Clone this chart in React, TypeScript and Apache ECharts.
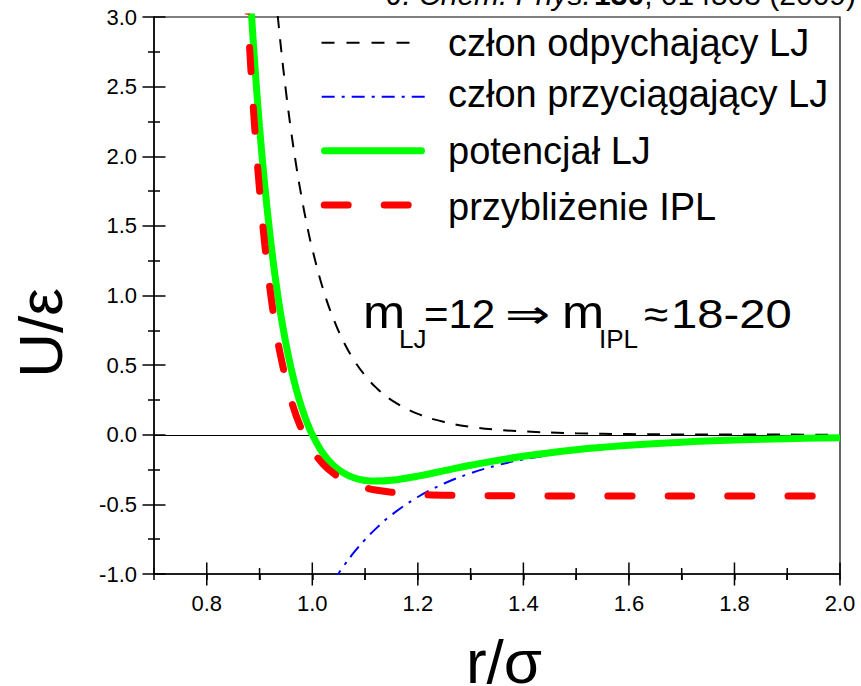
import React, { useEffect, useRef } from "react";
import * as echarts from "echarts";

const FONT = "'Liberation Sans', Arial, Helvetica, sans-serif";
const SYMBOL_FONT = "'Liberation Sans', 'DejaVu Sans', sans-serif";

// Axis tick positions
const xMajorTicks = [0.8, 1.0, 1.2, 1.4, 1.6, 1.8, 2.0];
const xMinorTicks = [0.7, 0.9, 1.1, 1.3, 1.5, 1.7, 1.9];
const yMajorTicks = [-1.0, -0.5, 0.0, 0.5, 1.0, 1.5, 2.0, 2.5, 3.0];
const yMinorTicks = [-0.75, -0.25, 0.25, 0.75, 1.25, 1.75, 2.25, 2.75];

// Series names
const seriesNames = [
  "człon odpychający LJ",
  "człon przyciągający LJ",
  "potencjał LJ",
  "przybliżenie IPL",
];

// Repulsive LJ term
const rRep = [0.93, 0.94, 0.95, 0.96, 0.97, 0.98, 0.99, 1.0, 1.02, 1.04, 1.06, 1.08, 1.1, 1.12, 1.15, 1.2, 1.25, 1.3, 1.35, 1.4, 1.5, 1.6, 1.7, 1.8, 1.9, 2.0];
const uRep = [3.185, 2.802, 2.468, 2.176, 1.922, 1.699, 1.504, 1.333, 1.051, 0.833, 0.663, 0.530, 0.425, 0.342, 0.249, 0.150, 0.092, 0.057, 0.036, 0.024, 0.010, 0.005, 0.002, 0.001, 0.001, 0.000];

// Attractive LJ term
const rAtt = [1.04, 1.049, 1.06, 1.08, 1.1, 1.12, 1.15, 1.2, 1.25, 1.3, 1.35, 1.4, 1.5, 1.6, 1.7, 1.8, 1.9, 2.0];
const uAtt = [-1.054, -1.0, -0.94, -0.84, -0.753, -0.676, -0.576, -0.447, -0.35, -0.276, -0.22, -0.177, -0.117, -0.08, -0.055, -0.039, -0.028, -0.021];

// Full LJ potential
const rLJ = [0.88, 0.89, 0.9, 0.91, 0.92, 0.93, 0.94, 0.95, 0.96, 0.97, 0.98, 0.99, 1.0, 1.02, 1.04, 1.06, 1.08, 1.1, 1.12, 1.15, 1.2, 1.25, 1.3, 1.4, 1.5, 1.6, 1.7, 1.8, 1.9, 2.0];
const uLJ = [3.311, 2.715, 2.212, 1.787, 1.428, 1.124, 0.869, 0.654, 0.473, 0.321, 0.194, 0.088, 0.0, -0.133, -0.221, -0.277, -0.311, -0.328, -0.333, -0.327, -0.297, -0.258, -0.219, -0.154, -0.107, -0.075, -0.053, -0.038, -0.028, -0.021];

// Inverse-power-law approximation
const rIPL = [0.875, 0.88, 0.89, 0.9, 0.91, 0.92, 0.93, 0.94, 0.96, 0.98, 1.0, 1.02, 1.04, 1.06, 1.08, 1.1, 1.12, 1.15, 1.2, 1.25, 1.3, 1.4, 1.5, 1.6, 1.8, 2.0];
const uIPL = [3.211, 2.854, 2.248, 1.759, 1.362, 1.04, 0.779, 0.565, 0.248, 0.035, -0.11, -0.209, -0.277, -0.324, -0.357, -0.381, -0.397, -0.413, -0.428, -0.434, -0.437, -0.439, -0.44, -0.44, -0.44, -0.44];

const toPairs = (xs: number[], ys: number[]) => xs.map((x, i) => [x, ys[i]]);

const X_MIN = 0.7;
const X_MAX = 2.0;
const X_STEP = 0.1;
const Y_MIN = -1.0;
const Y_MAX = 3.0;

const MAJOR_HALF = 11.5;
const MINOR_HALF = 6;

const tickLine = { color: "#000", width: 1.5 };

// A y axis that only draws ticks, shifted outward by half the tick length
// so the ticks straddle the frame line.
function yTickAxis(values: number[], half: number) {
  return {
    type: "value",
    min: Y_MIN,
    max: Y_MAX,
    position: "left",
    offset: half,
    axisLine: { show: false, onZero: false },
    axisLabel: { show: false },
    splitLine: { show: false },
    axisTick: { show: true, inside: true, length: half * 2, customValues: values, lineStyle: tickLine },
  };
}

// r/σ tick marks drawn as thin bars: [r, U at the frame, half length]
const xTickData = [
  ...xMajorTicks.map((v) => [v, Y_MIN, MAJOR_HALF]),
  ...xMinorTicks.map((v) => [v, Y_MIN, MINOR_HALF]),
];

const legendRowY = [42.7, 96.7, 150.7, 205];
const legendTextY = [43, 94, 151, 207];

export default function App() {
  const ref = useRef<HTMLDivElement>(null);

  useEffect(() => {
    if (!ref.current) return;
    const chart = echarts.init(ref.current, null, { renderer: "svg" });

    const noteText = (text: string, x: number, baseline: number, size: number, sx: number, font = FONT) => ({
      type: "text",
      x,
      y: baseline - 0.3465 * size,
      scaleX: sx,
      style: {
        text,
        fontSize: size,
        fontFamily: font,
        fill: "#000",
        align: "left",
        verticalAlign: "middle",
      },
    });

    const option: any = {
      animation: false,
      backgroundColor: "#fff",
      grid: {
        left: 154,
        right: 21,
        top: 17,
        bottom: 112,
        show: true,
        borderColor: "#000",
        borderWidth: 1.2,
        backgroundColor: "transparent",
      },
      xAxis: {
        type: "value",
        min: X_MIN,
        max: X_MAX,
        interval: X_STEP,
        position: "bottom",
        axisLine: { show: true, onZero: false, lineStyle: { color: "#000", width: 1.5 } },
        axisTick: { show: true, inside: false, length: MINOR_HALF, lineStyle: tickLine },
        splitLine: { show: false },
        axisLabel: {
          formatter: (v: number) => (Math.round(v * 10) % 2 === 0 ? v.toFixed(1) : ""),
          showMinLabel: false,
          margin: 18,
          fontSize: 22,
          fontFamily: FONT,
          color: "#000",
        },
      },
      yAxis: [
        {
          type: "value",
          min: Y_MIN,
          max: Y_MAX,
          position: "left",
          axisLine: { show: true, onZero: false, lineStyle: { color: "#000", width: 1.5 } },
          axisTick: { show: false },
          splitLine: { show: false },
          axisLabel: {
            customValues: yMajorTicks,
            formatter: (v: number) => v.toFixed(1),
            margin: 17,
            fontSize: 22,
            fontFamily: FONT,
            color: "#000",
          },
        },
        yTickAxis(yMajorTicks, MAJOR_HALF),
        yTickAxis(yMinorTicks, MINOR_HALF),
      ],
      series: [
        {
          name: seriesNames[0],
          type: "line",
          data: toPairs(rRep, uRep),
          symbol: "none",
          smooth: 0.4,
          z: 3,
          lineStyle: { color: "#000", width: 2, type: [13, 11] },
          markLine: {
            silent: true,
            symbol: ["none", "none"],
            label: { show: false },
            lineStyle: { color: "#000", width: 1.2, type: "solid" },
            data: [{ yAxis: 0 }],
          },
        },
        {
          name: seriesNames[1],
          type: "line",
          data: toPairs(rAtt, uAtt),
          symbol: "none",
          smooth: 0.4,
          z: 3,
          lineStyle: { color: "#0000ff", width: 2, type: [13, 7, 3, 7] },
        },
        {
          name: seriesNames[2],
          type: "line",
          data: toPairs(rLJ, uLJ),
          symbol: "none",
          smooth: 0.4,
          z: 5,
          lineStyle: { color: "#00ff00", width: 7 },
        },
        {
          name: seriesNames[3],
          type: "line",
          data: toPairs(rIPL, uIPL),
          symbol: "none",
          smooth: 0.4,
          z: 6,
          lineStyle: { color: "#ff0000", width: 7, type: [24, 36], cap: "round" },
        },
        {
          // tick marks on the r/σ axis, straddling the frame line
          type: "custom",
          silent: true,
          clip: false,
          z: 10,
          data: xTickData,
          dimensions: ["r", "u", "half"],
          encode: { x: 0, y: 1 },
          renderItem: (_params: any, api: any) => {
            const p = api.coord([api.value(0), api.value(1)]);
            const half = api.value(2);
            return {
              type: "rect",
              shape: { x: p[0] - 0.75, y: p[1] - half, width: 1.5, height: half * 2 },
              style: { fill: "#000" },
            };
          },
        },
      ],
      graphic: [
        // legend samples
        { type: "line", shape: { x1: 321.5, y1: legendRowY[0], x2: 410, y2: legendRowY[0] }, style: { stroke: "#000", lineWidth: 2, lineDash: [13, 12] } },
        { type: "line", shape: { x1: 321.7, y1: legendRowY[1], x2: 425, y2: legendRowY[1] }, style: { stroke: "#0000ff", lineWidth: 2, lineDash: [13, 7, 3, 7] } },
        { type: "line", shape: { x1: 324.5, y1: legendRowY[2], x2: 421.5, y2: legendRowY[2] }, style: { stroke: "#00ff00", lineWidth: 7, lineCap: "round" } },
        { type: "line", shape: { x1: 324.2, y1: legendRowY[3], x2: 408.2, y2: legendRowY[3] }, style: { stroke: "#ff0000", lineWidth: 7, lineCap: "round", lineDash: [24, 36] } },
        ...seriesNames.map((name, i) => ({
          type: "text",
          x: 448,
          y: legendTextY[i],
          style: { text: name, fontSize: 38, fontFamily: FONT, fill: "#000", align: "left", verticalAlign: "middle" },
        })),
        // exponent note
        noteText("m", 363, 328, 46, 1.1),
        noteText("LJ", 399, 348, 26, 1),
        noteText("=12", 424, 328, 40, 1.05),
        noteText("⇒", 505, 328, 40, 1.35, SYMBOL_FONT),
        noteText("m", 562, 328, 46, 1.1),
        noteText("IPL", 599, 348, 26, 1),
        noteText("≈", 644, 328, 40, 1.1, SYMBOL_FONT),
        noteText("18-20", 671, 328, 40, 1.18),
        // axis titles
        {
          type: "text",
          x: 40.5,
          y: 333,
          rotation: Math.PI / 2,
          style: { text: "U/ε", fontSize: 62, lineHeight: 50, fontFamily: FONT, fill: "#000", align: "center", verticalAlign: "middle" },
        },
        {
          type: "text",
          x: 504,
          y: 661,
          style: { text: "r/σ", fontSize: 62, lineHeight: 46, fontFamily: FONT, fill: "#000", align: "center", verticalAlign: "middle" },
        },
        // citation at the top edge
        {
          type: "text",
          x: 856,
          y: -6,
          style: {
            text: "{i|J. Chem. Phys.} {b|130}{n|, 014503 (2009)}",
            align: "right",
            verticalAlign: "middle",
            rich: {
              i: { fontSize: 30, fontFamily: FONT, fontStyle: "italic", fill: "#000" },
              b: { fontSize: 30, fontFamily: FONT, fontWeight: "bold", fill: "#000" },
              n: { fontSize: 30, fontFamily: FONT, fill: "#000" },
            },
          },
        },
      ],
    };

    chart.setOption(option);
    return () => chart.dispose();
  }, []);

  return (
    <div
      ref={ref}
      style={{ position: "absolute", left: 0, top: 0, width: 861, height: 686 }}
    />
  );
}
